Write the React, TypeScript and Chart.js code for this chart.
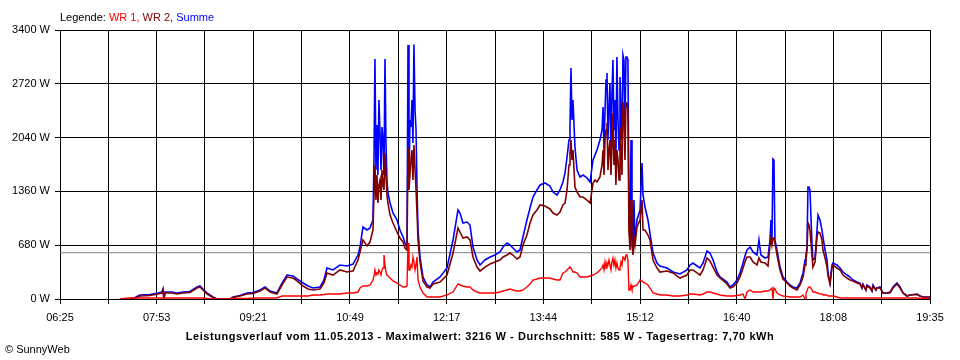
import React, { useEffect, useRef } from "react";
import { Chart, registerables } from "chart.js";

Chart.register(...registerables);

// time in minutes since midnight
const times = [
  439.5, 442.2, 448.6, 453.1, 457.6, 466.7, 474.0, 477.6, 478.5, 479.4,
  480.3, 486.7, 491.2, 496.7, 503.0, 509.4, 512.1, 514.8, 518.5, 523.9,
  527.6, 539.4, 542.1, 548.4, 554.8, 560.3, 566.6, 571.2, 575.7, 582.0,
  586.6, 591.1, 596.6, 600.2, 605.7, 610.2, 614.7, 621.1, 624.7, 627.4,
  632.9, 639.2, 645.6, 651.1, 655.6, 657.4, 660.1, 663.8, 666.5, 669.2,
  670.1, 671.0, 671.9, 672.8, 673.7, 674.6, 675.6, 676.5, 677.4, 678.3,
  679.2, 680.1, 681.0, 681.9, 682.8, 684.7, 687.4, 691.0, 693.7, 696.5,
  698.3, 700.1, 701.0, 701.9, 702.8, 703.7, 704.6, 705.5, 706.4, 707.4,
  708.3, 709.2, 710.1, 711.9, 714.6, 718.3, 721.0, 723.7, 730.1, 736.4,
  741.9, 746.4, 748.2, 750.9, 754.6, 757.3, 760.0, 763.7, 766.4, 770.9,
  775.5, 780.0, 784.5, 787.3, 790.9, 793.6, 796.3, 800.0, 802.7, 805.4,
  809.0, 811.8, 814.5, 818.1, 820.9, 825.4, 829.9, 832.7, 836.3, 839.0,
  841.7, 843.6, 845.4, 847.2, 848.1, 849.0, 849.9, 850.8, 852.6, 854.5,
  857.2, 859.9, 863.5, 866.3, 869.0, 870.8, 872.6, 875.3, 877.2, 878.1,
  879.0, 879.9, 880.8, 881.7, 882.6, 883.5, 884.4, 885.3, 886.2, 887.1,
  888.0, 888.9, 889.8, 890.7, 891.7, 892.6, 893.5, 894.4, 895.3, 896.2,
  897.1, 898.0, 898.9, 899.8, 900.7, 901.6, 902.6, 903.5, 904.4, 905.3,
  906.2, 907.1, 908.9, 911.7, 913.5, 914.4, 916.2, 918.9, 920.7, 923.5,
  927.1, 929.8, 936.2, 941.6, 948.0, 954.3, 957.1, 959.8, 963.4, 966.2,
  968.9, 972.5, 975.2, 978.0, 981.6, 984.3, 990.7, 993.4, 996.1, 999.7,
  1002.5, 1005.2, 1007.0, 1008.8, 1011.6, 1014.3, 1017.9, 1019.7, 1021.5, 1025.2,
  1027.9, 1029.7, 1030.6, 1031.5, 1032.4, 1033.3, 1034.2, 1036.1, 1038.8, 1041.5,
  1045.2, 1047.9, 1050.6, 1054.2, 1057.0, 1059.7, 1061.5, 1062.4, 1063.3, 1064.2,
  1065.1, 1066.0, 1067.8, 1068.7, 1070.6, 1072.4, 1073.3, 1075.1, 1076.9, 1077.8,
  1079.7, 1081.5, 1082.4, 1084.2, 1086.0, 1086.9, 1090.5, 1093.3, 1096.0, 1099.6,
  1102.4, 1105.1, 1108.7, 1111.4, 1113.2, 1114.1, 1116.8, 1117.7, 1120.5, 1122.3,
  1123.2, 1125.9, 1126.8, 1129.6, 1132.3, 1136.0, 1138.7, 1141.4, 1145.0, 1147.8,
  1150.5, 1154.1, 1156.8, 1163.2, 1165.9, 1168.6, 1175.0,
];

const summe = [
  0, 0, 0, 19, 50, 57, 76, 88, 126, 0,
  88, 88, 76, 88, 95, 152, 164, 126, 76, 25,
  0, 0, 25, 44, 76, 82, 114, 152, 101, 76,
  202, 303, 291, 253, 202, 164, 139, 152, 240, 392,
  367, 430, 417, 442, 556, 657, 910, 872, 897, 999,
  1757, 3034, 1631, 2199, 1567, 2515, 2098, 1631, 2174, 2010,
  1567, 3034, 1972, 1504, 1340, 1213, 1087, 999, 872, 784,
  708, 657, 3211, 1504, 2263, 2174, 2515, 1972, 3216, 2389,
  2136, 1378, 872, 531, 278, 177, 152, 215, 278, 392,
  746, 1125, 1087, 961, 973, 935, 657, 493, 430, 493,
  531, 556, 594, 657, 708, 683, 645, 594, 619, 784,
  999, 1150, 1289, 1378, 1441, 1466, 1428, 1352, 1315, 1378,
  1479, 1593, 1795, 2010, 2174, 2920, 2263, 2515, 1921, 1631,
  1542, 1567, 1530, 1479, 1757, 1820, 1883, 2010, 2136, 2427,
  1883, 2389, 2768, 2857, 2010, 2389, 2730, 1883, 2579, 3021,
  2136, 2515, 1757, 3059, 2263, 1883, 2806, 2389, 2010, 3084,
  3021, 2136, 3059, 3059, 3021, 1251, 657, 2010, 999, 619,
  1251, 708, 999, 1125, 1719, 1315, 1163, 999, 834, 581,
  455, 417, 392, 341, 316, 367, 430, 455, 417, 392,
  455, 607, 581, 493, 341, 278, 215, 152, 177, 240,
  329, 455, 544, 619, 657, 594, 556, 746, 556, 518,
  531, 746, 999, 746, 1770, 1757, 746, 619, 404, 278,
  215, 177, 152, 139, 202, 329, 493, 556, 657, 1416,
  1416, 1378, 708, 493, 518, 872, 1062, 999, 872, 784,
  619, 493, 329, 202, 430, 455, 430, 392, 341, 303,
  278, 240, 215, 202, 139, 190, 114, 177, 152, 101,
  177, 114, 139, 152, 76, 76, 88, 152, 202, 152,
  76, 38, 51, 63, 38, 25, 25,
];

const wr2 = [
  0, 0, 0, 6, 38, 44, 63, 76, 114, 0,
  76, 76, 63, 76, 82, 139, 152, 114, 63, 19,
  0, 0, 19, 38, 63, 70, 101, 139, 88, 63,
  177, 278, 265, 228, 164, 126, 114, 126, 202, 329,
  303, 367, 341, 354, 493, 594, 746, 670, 720, 872,
  1315, 1694, 1251, 1567, 1213, 1441, 1504, 1251, 1631, 1441,
  1378, 1845, 1567, 1315, 1213, 1062, 961, 847, 771, 720,
  645, 619, 1909, 1378, 1567, 1757, 1883, 1504, 1947, 1631,
  1378, 1087, 746, 468, 228, 152, 139, 190, 215, 303,
  581, 897, 847, 771, 784, 746, 531, 404, 354, 404,
  442, 468, 493, 531, 556, 581, 556, 506, 531, 683,
  809, 961, 1062, 1125, 1188, 1176, 1138, 1087, 1062, 1100,
  1188, 1213, 1378, 1694, 1845, 2010, 1757, 1883, 1416, 1352,
  1289, 1289, 1251, 1213, 1466, 1504, 1479, 1542, 1694, 1883,
  1567, 2010, 2136, 2225, 1631, 1883, 2010, 1567, 1947, 2351,
  1694, 2010, 1441, 1883, 1757, 1504, 2174, 1883, 1567, 2490,
  2389, 1757, 2477, 2477, 2389, 871, 619, 1251, 683, 556,
  809, 683, 910, 999, 1251, 872, 872, 809, 746, 493,
  392, 341, 354, 329, 265, 303, 367, 367, 329, 303,
  367, 518, 480, 404, 303, 265, 190, 139, 152, 202,
  278, 392, 468, 531, 531, 468, 430, 518, 468, 455,
  417, 683, 771, 683, 771, 771, 708, 556, 367, 253,
  202, 164, 139, 114, 177, 278, 430, 493, 619, 961,
  935, 872, 556, 404, 468, 784, 847, 834, 746, 619,
  518, 404, 291, 190, 392, 430, 392, 367, 303, 265,
  240, 228, 202, 190, 139, 177, 114, 164, 139, 101,
  164, 114, 139, 139, 76, 76, 76, 139, 190, 139,
  76, 38, 51, 57, 38, 25, 19,
];

const wr1 = [
  0, 6, 13, 13, 13, 13, 13, 13, 13, 0,
  13, 13, 13, 13, 13, 13, 13, 13, 6, 0,
  0, 0, 6, 6, 6, 13, 13, 13, 13, 13,
  38, 38, 38, 38, 38, 38, 51, 51, 57, 63,
  63, 63, 76, 76, 88, 139, 164, 164, 177, 240,
  291, 367, 303, 329, 316, 367, 341, 303, 367, 392,
  556, 430, 341, 303, 291, 265, 228, 202, 177, 152,
  152, 164, 708, 367, 367, 430, 404, 531, 468, 367,
  430, 531, 240, 152, 76, 25, 25, 25, 25, 51,
  88, 190, 177, 164, 152, 152, 114, 88, 76, 76,
  76, 76, 88, 101, 114, 126, 114, 101, 101, 114,
  152, 190, 240, 253, 265, 265, 265, 253, 240, 240,
  329, 341, 367, 392, 404, 392, 367, 341, 341, 329,
  278, 278, 278, 291, 303, 316, 329, 367, 392, 430,
  367, 468, 392, 455, 430, 493, 430, 367, 468, 518,
  430, 493, 392, 455, 392, 367, 392, 468, 430, 531,
  518, 493, 556, 556, 493, 114, 114, 177, 126, 152,
  164, 164, 177, 240, 228, 215, 202, 177, 139, 76,
  63, 51, 51, 38, 38, 51, 63, 63, 57, 51,
  63, 88, 88, 76, 63, 51, 38, 38, 38, 44,
  51, 63, 0, 88, 114, 88, 88, 88, 88, 101,
  101, 114, 126, 139, 0, 139, 126, 76, 51, 38,
  32, 25, 25, 25, 25, 51, 0, 76, 101, 139,
  152, 152, 114, 88, 88, 76, 76, 63, 63, 51,
  51, 51, 38, 38, 38, 38, 25, 13, 13, 13,
  13, 13, 13, 13, 13, 13, 13, 13, 13, 13,
  13, 13, 13, 13, 13, 13, 13, 13, 13, 13,
  13, 13, 13, 13, 6, 6, 6,
];

const averageW = 585;
const xStart = 385; // 06:25
const xEnd = 1175; // 19:35
const xGridCount = 18;
const xTickLabels = ["06:25", "07:53", "09:21", "10:49", "12:17", "13:44", "15:12", "16:40", "18:08", "19:35"];
const yMax = 3400;
const yStep = 680;

const FONT = '"Liberation Sans", Arial, sans-serif';

export default function App() {
  const ref = useRef<HTMLCanvasElement>(null);

  useEffect(() => {
    const pts = (arr: number[]) => times.map((t, i) => ({ x: t, y: arr[i] }));
    const chart = new Chart(ref.current as HTMLCanvasElement, {
      type: "line",
      data: {
        datasets: [
          { label: "WR 1", data: pts(wr1), borderColor: "#ff0000", borderWidth: 1.4, pointRadius: 0, tension: 0 },
          { label: "WR 2", data: pts(wr2), borderColor: "#800000", borderWidth: 1.6, pointRadius: 0, tension: 0 },
          { label: "Summe", data: pts(summe), borderColor: "#0000ff", borderWidth: 1.6, pointRadius: 0, tension: 0 },
          {
            label: "Durchschnitt",
            data: [{ x: xStart, y: averageW }, { x: xEnd, y: averageW }],
            borderColor: "#808080",
            borderWidth: 1,
            pointRadius: 0,
          },
        ],
      },
      options: {
        animation: false,
        responsive: false,
        devicePixelRatio: 1,
        parsing: false,
        normalized: true,
        layout: { padding: { top: 30, right: 30, left: 0, bottom: 0 } },
        plugins: { legend: { display: false }, tooltip: { enabled: false }, title: { display: false } },
        scales: {
          x: {
            type: "linear",
            min: xStart,
            max: xEnd,
            afterBuildTicks: (s: any) => {
              const ticks = [];
              for (let i = 0; i <= xGridCount; i++) ticks.push({ value: xStart + (i * (xEnd - xStart)) / xGridCount });
              s.ticks = ticks;
            },
            afterFit: (s: any) => {
              s.height = 61;
            },
            ticks: {
              autoSkip: false,
              maxRotation: 0,
              color: "#000",
              padding: 7,
              font: { family: FONT, size: 11 },
              callback: (_v: any, i: number) => (i % 2 === 0 ? xTickLabels[i / 2] : ""),
            },
            grid: { color: "#000", lineWidth: 1, tickLength: 5, drawTicks: true },
            border: { color: "#000", width: 1 },
          },
          y: {
            min: 0,
            max: yMax,
            afterFit: (s: any) => {
              s.width = 60;
            },
            ticks: {
              stepSize: yStep,
              color: "#000",
              padding: 5,
              font: { family: FONT, size: 11 },
              callback: (v: any) => `${v} W`,
            },
            grid: { color: "#000", lineWidth: 1, tickLength: 5, drawTicks: true },
            border: { color: "#000", width: 1 },
          },
        },
      },
    } as any);
    return () => chart.destroy();
  }, []);

  const txt: React.CSSProperties = {
    position: "absolute",
    fontFamily: FONT,
    fontSize: 11,
    lineHeight: "13px",
    whiteSpace: "nowrap",
    color: "#000",
  };

  return (
    <div style={{ position: "absolute", left: 0, top: 0, width: 960, height: 360, background: "#fff", overflow: "hidden" }}>
      <canvas ref={ref} width={960} height={360} style={{ display: "block", width: 960, height: 360 }} />
      <div style={{ ...txt, left: 60, top: 11 }}>
        Legende: <span style={{ color: "#ff0000" }}>WR 1, </span>
        <span style={{ color: "#800000" }}>WR 2, </span>
        <span style={{ color: "#0000ff" }}>Summe</span>
      </div>
      <div style={{ ...txt, left: 0, width: 960, top: 330, textAlign: "center", fontWeight: "bold", letterSpacing: "0.55px" }}>
        Leistungsverlauf vom 11.05.2013 - Maximalwert: 3216 W - Durchschnitt: 585 W - Tagesertrag: 7,70 kWh
      </div>
      <div style={{ ...txt, left: 5, top: 343 }}>© SunnyWeb</div>
    </div>
  );
}
